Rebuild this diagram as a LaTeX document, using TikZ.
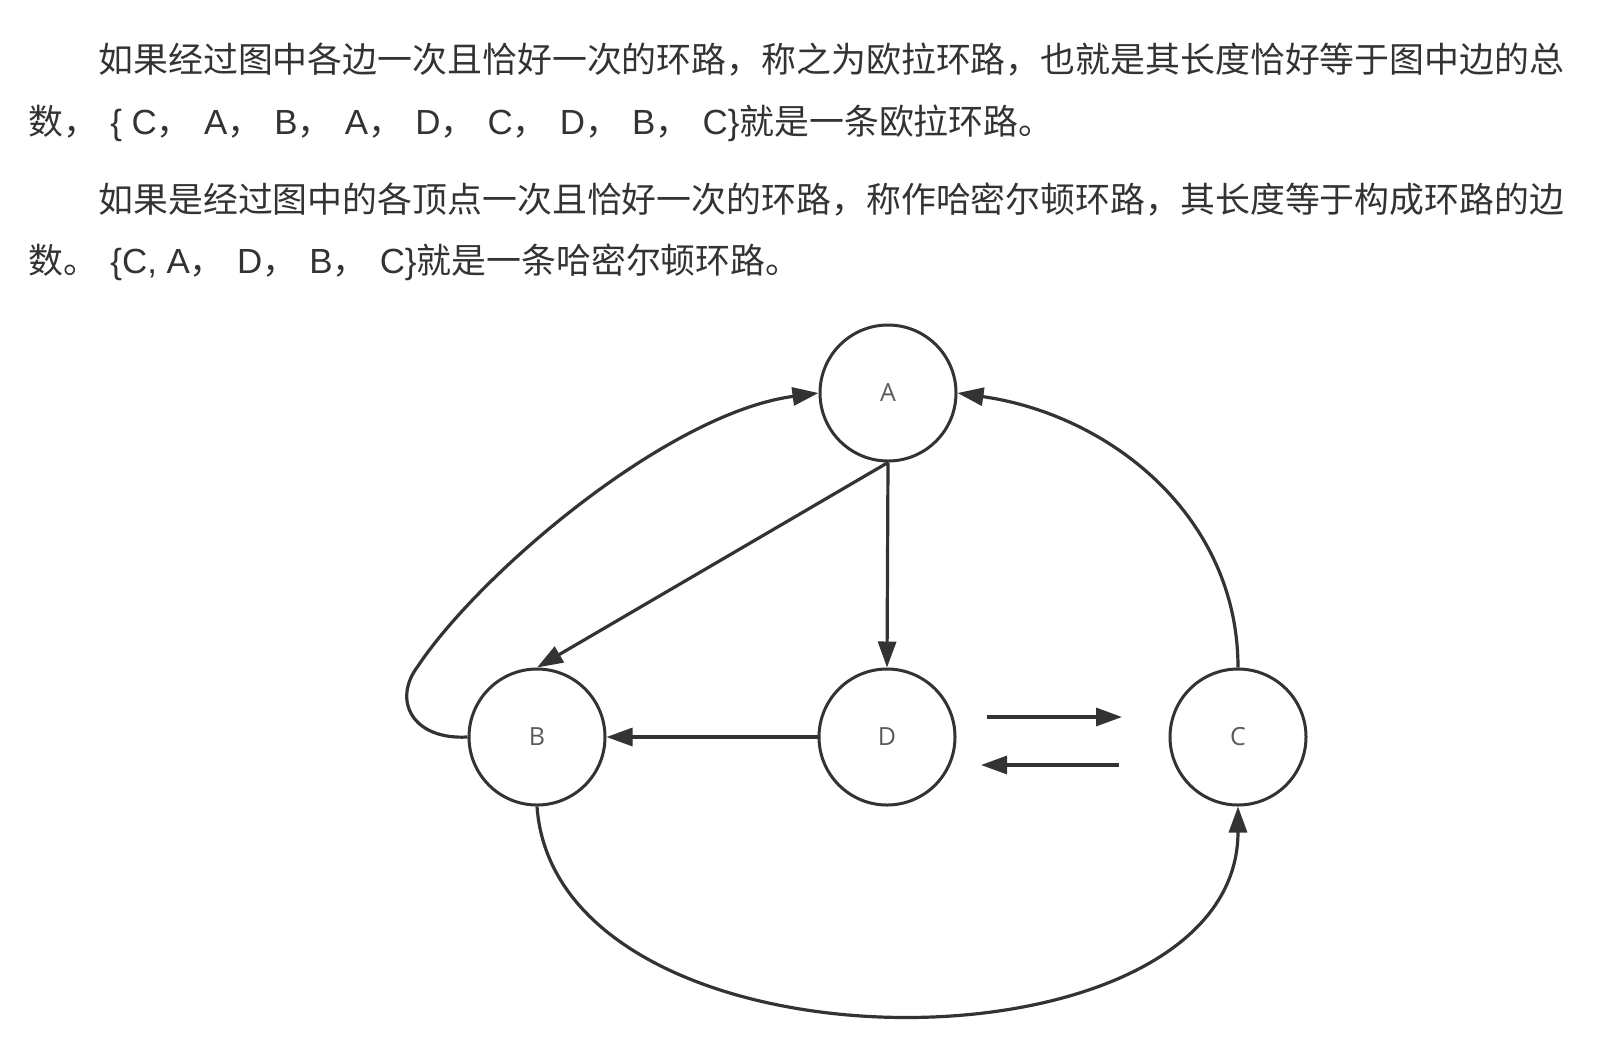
\documentclass[tikz,border=0pt]{standalone}
\usepackage{fontspec}
\setmainfont{Noto Sans CJK SC}
\newfontfamily\labelfont{Open Sans}
\newfontfamily\latinfont{Liberation Sans}
\newcommand\lt[1]{{\latinfont\hspace{0.35em}#1}}
\definecolor{ink}{HTML}{333333}
\definecolor{graphline}{HTML}{333333}
\definecolor{labelgray}{HTML}{5A5A5A}
\usetikzlibrary{arrows.meta}

\begin{document}
\begin{tikzpicture}[x=0.5pt,y=-0.5pt,>={Triangle[length=13pt,width=9pt]},
  vertex/.style={draw=graphline,circle,line width=1.5pt,minimum size=68pt,inner sep=0pt,
    font=\labelfont\fontsize{12.5pt}{14pt}\selectfont,text=labelgray},
  edge/.style={->,draw=graphline,line width=1.6pt},
  para/.style={anchor=base west,inner sep=0pt,text=ink,font=\fontsize{17.45pt}{20pt}\selectfont}]
\useasboundingbox (0,0) rectangle (1617,1040);
% text above the graph
\node[para] (l1) at (98,72) {如果经过图中各边一次且恰好一次的环路，称之为欧拉环路，也就是其长度恰好等于图中边的总};
\node[para] (l2) at (28,134) {数，\lt{\{ C}，\lt{A}，\lt{B}，\lt{A}，\lt{D}，\lt{C}，\lt{D}，\lt{B}，\lt{C\}}就是一条欧拉环路。};
\node[para] (l3) at (98,212) {如果是经过图中的各顶点一次且恰好一次的环路，称作哈密尔顿环路，其长度等于构成环路的边};
\node[para] (l4) at (28,273) {数。\lt{\{C, A}，\lt{D}，\lt{B}，\lt{C\}}就是一条哈密尔顿环路。};
% vertices
\node[vertex] (A) at (888,393) {A};
\node[vertex] (B) at (537,737) {B};
\node[vertex] (D) at (887,737) {D};
\node[vertex] (C) at (1238,737) {C};
\coordinate (dc1) at (987,717);
\coordinate (dc2) at (1122,717);
\coordinate (cd1) at (1119,765);
\coordinate (cd2) at (981,765);
% edges
\draw[edge] (A.south) -- (D.north);
\draw[edge] (A.south) -- (B.north);
\draw[edge] (D.west) -- (B.east);
\draw[edge] (dc1) -- (dc2);
\draw[edge] (cd1) -- (cd2);
\draw[edge] (B.west) .. controls (412,740) and (392,700) .. (418,666)
  .. controls (480,573) and (668,413) .. (A.west);
\draw[edge] (C.north) .. controls +(0,-150) and +(154,22) .. (A.east);
\draw[edge] (B.south) .. controls +(20,278) and +(0,276) .. (C.south);
\end{tikzpicture}
\end{document}
